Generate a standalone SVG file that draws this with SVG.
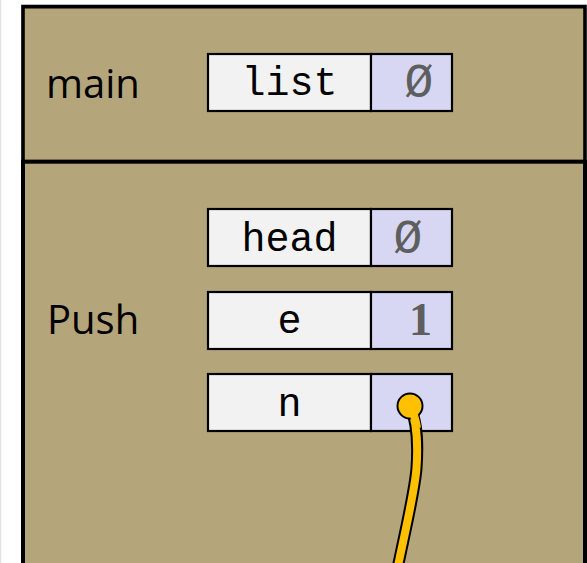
<svg xmlns="http://www.w3.org/2000/svg" width="587" height="563" viewBox="0 0 587 563">
  <style>
    .frame { fill: #B5A57A; stroke: #000; stroke-width: 3.6; }
    .label { fill: #F2F2F2; stroke: #000; stroke-width: 2.2; }
    .value { fill: #D7D7F3; stroke: #000; stroke-width: 2.2; }
    .mono { font-family: "Liberation Mono", "Courier New", monospace; font-size: 40px; fill: #000; text-anchor: middle; }
    .nul { font-family: "Liberation Mono", "Courier New", monospace; font-size: 48px; fill: #5E5E5E; text-anchor: middle; }
    .num { font-family: "Liberation Serif", "Times New Roman", serif; font-weight: bold; font-size: 46px; fill: #5E5E5E; text-anchor: middle; }
    .fname { font-family: "Open Sans", "Noto Sans", sans-serif; font-size: 40px; fill: #000; }
  </style>
  <rect x="0" y="0" width="587" height="563" fill="#FFFFFF"/>
  <line x1="0.5" y1="0" x2="0.5" y2="563" stroke="#E2E2E2" stroke-width="1.5"/>
  <line x1="21" y1="4.5" x2="587" y2="4.5" stroke="#D0D0D0" stroke-width="1.2"/>

  <g id="frame-main">
    <rect class="frame" x="23" y="6.7" width="562" height="155"/>
    <text class="fname" x="46" y="98">main</text>
  </g>
  <g id="frame-push">
    <rect class="frame" x="23" y="161.7" width="562" height="410" style="stroke-width:4"/>
    <text class="fname" x="47" y="334">Push</text>
  </g>

  <g id="var-list">
    <rect class="label" x="208" y="54" width="163" height="57"/>
    <rect class="value" x="371" y="54" width="81" height="57"/>
    <text class="mono" x="289.5" y="95">list</text>
    <text class="nul" x="419" y="97">Ø</text>
  </g>
  <g id="var-head">
    <rect class="label" x="208" y="209" width="163" height="57"/>
    <rect class="value" x="371" y="209" width="81" height="57"/>
    <text class="mono" x="289.5" y="251">head</text>
    <text class="nul" x="408" y="253">Ø</text>
  </g>
  <g id="var-e">
    <rect class="label" x="208" y="292" width="163" height="57"/>
    <rect class="value" x="371" y="292" width="81" height="57"/>
    <text class="mono" x="289.5" y="333">e</text>
    <text class="num" x="420.5" y="335">1</text>
  </g>
  <g id="var-n">
    <rect class="label" x="208" y="374" width="163" height="57"/>
    <rect class="value" x="371" y="374" width="81" height="57"/>
    <text class="mono" x="289.5" y="416">n</text>
  </g>

  <g id="connectors">
    <path d="M410,406 C418,424 418,446 416.5,468 S405,532 398,566" fill="none" stroke="#000" stroke-width="12" stroke-linecap="round"/>
    <path d="M410,406 C418,424 418,446 416.5,468 S405,532 398,566" fill="none" stroke="#FFC000" stroke-width="8" stroke-linecap="round"/>
    <circle cx="410" cy="406" r="12.5" fill="#FFC000" stroke="#000" stroke-width="2"/>
    <path d="M410,406 C414,414 416,420 417,428" fill="none" stroke="#FFC000" stroke-width="8"/>
  </g>
</svg>
